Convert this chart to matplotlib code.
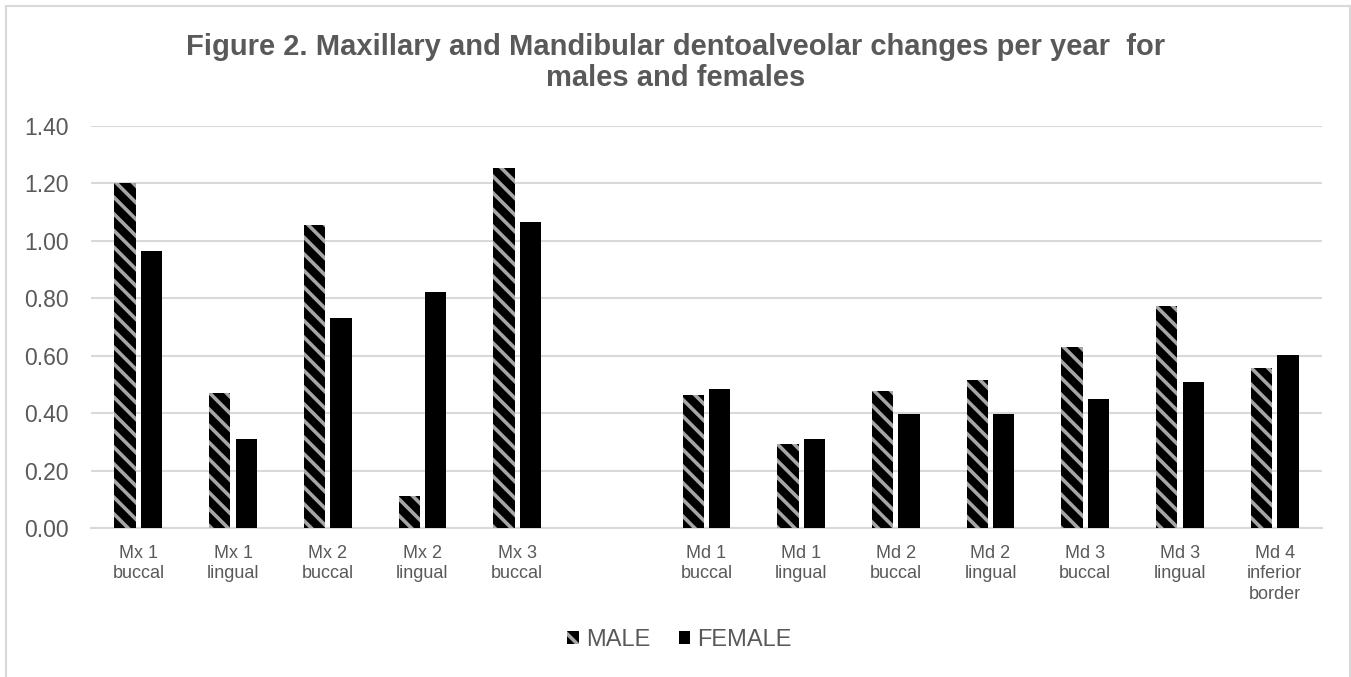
import numpy as np
import matplotlib.pyplot as plt
from matplotlib.patches import Rectangle

plt.rcParams['font.family'] = ['Liberation Sans', 'DejaVu Sans']
plt.rcParams['hatch.linewidth'] = 2.6

# categories (blank one separates maxillary and mandibular groups)
categories = ['Mx 1\nbuccal', 'Mx 1\nlingual', 'Mx 2\nbuccal', 'Mx 2\nlingual', 'Mx 3\nbuccal',
              '',
              'Md 1\nbuccal', 'Md 1\nlingual', 'Md 2\nbuccal', 'Md 2\nlingual', 'Md 3\nbuccal',
              'Md 3\nlingual', 'Md 4\ninferior\nborder']
male = [1.20, 0.47, 1.056, 0.113, 1.252, np.nan,
        0.462, 0.294, 0.476, 0.516, 0.629, 0.773, 0.558]
female = [0.965, 0.309, 0.731, 0.822, 1.066, np.nan,
          0.483, 0.310, 0.397, 0.397, 0.450, 0.510, 0.602]
yticks = [0.0, 0.2, 0.4, 0.6, 0.8, 1.0, 1.2, 1.4]

grey_txt = '#595959'
grid_col = '#d9d9d9'

fig = plt.figure(figsize=(13.51, 6.77), dpi=100)
ax = fig.add_axes([0.0674, 0.2201, 0.9111, 0.5938])

x = np.arange(len(categories))
w = 0.225
off = 0.14
ax.bar(x - off, male, w, color='black', edgecolor='#a6a6a6', linewidth=0,
       hatch='\\\\', label='MALE', zorder=3)
ax.bar(x + off, female, w, color='black', edgecolor='black', linewidth=0,
       label='FEMALE', zorder=3)

ax.set_xlim(-0.5, len(categories) - 0.5)
ax.set_ylim(0, 1.4)
ax.set_yticks(yticks)
ax.set_yticklabels([f'{v:.2f}' for v in yticks])
ax.set_xticks(x)
ax.set_xticklabels(categories, linespacing=1.28)
ax.tick_params(axis='y', length=0, labelsize=16.5, labelcolor=grey_txt, pad=16)
ax.tick_params(axis='x', length=0, labelsize=13, labelcolor=grey_txt, pad=12)
ax.grid(axis='y', color=grid_col, linewidth=1.5, zorder=0)
for s in ['top', 'right', 'left']:
    ax.spines[s].set_visible(False)
ax.spines['bottom'].set_color(grid_col)
ax.spines['bottom'].set_linewidth(1.5)

fig.text(0.5, 0.9077,
         'Figure 2. Maxillary and Mandibular dentoalveolar changes per year  for\nmales and females',
         ha='center', va='center', fontsize=21, fontweight='bold', color=grey_txt,
         linespacing=1.12, multialignment='center')

fig.legend(loc='center', bbox_to_anchor=(0.503, 0.055), ncol=2, frameon=False,
           fontsize=17, labelcolor=grey_txt, handlelength=0.5, handleheight=0.5,
           handletextpad=0.3, columnspacing=1.2)

# chart border
fig.patches.append(Rectangle((6 / 1351, -0.2), 1344 / 1351, 1.2 - 6 / 677,
                             transform=fig.transFigure, fill=False,
                             edgecolor=grid_col, linewidth=1.5))

fig.savefig('out.png', dpi=100)
